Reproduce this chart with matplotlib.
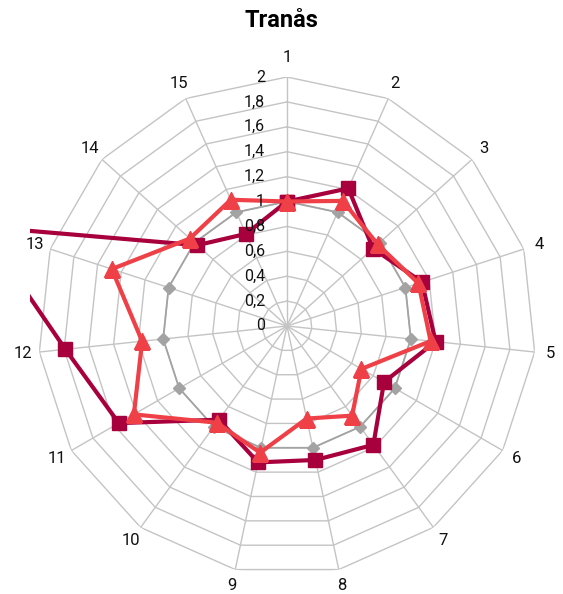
import numpy as np
import matplotlib
matplotlib.use("Agg")
import matplotlib.pyplot as plt
from matplotlib.transforms import Bbox, TransformedBbox, ScaledTranslation

# Data
categories = [str(i) for i in range(1, 16)]
index_ref = [1.0] * 15
series_dark = [1.0, 1.21, 0.93, 1.14, 1.2, 0.9, 1.18, 1.1, 1.12, 0.93, 1.56, 1.79, 2.58, 0.97, 0.81]
series_red = [1.0, 1.1, 0.98, 1.11, 1.16, 0.69, 0.89, 0.76, 1.04, 0.96, 1.42, 1.17, 1.48, 1.05, 1.11]
rticks = [0, 0.2, 0.4, 0.6, 0.8, 1.0, 1.2, 1.4, 1.6, 1.8, 2.0]
rtick_labels = ["0", "0,2", "0,4", "0,6", "0,8", "1", "1,2", "1,4", "1,6", "1,8", "2"]
title = "Tranås"

plt.rcParams['font.family'] = ['Roboto', 'DejaVu Sans']

fig = plt.figure(figsize=(5.63, 5.94), dpi=100)
ax = fig.add_axes([38 / 563, 19 / 594, 498 / 563, 498 / 594], projection='polar')
ax.set_theta_zero_location('N')
ax.set_theta_direction(-1)
ax.set_ylim(0, 2)
ax.grid(False)
ax.set_xticks([])
ax.set_yticks([])
ax.spines['polar'].set_visible(False)
ax.patch.set_visible(False)

n = len(categories)
theta = np.arange(n) * 2 * np.pi / n
theta_closed = np.append(theta, theta[0])


def closed(vals):
    return np.append(vals, vals[0])


# polygon grid rings and spokes
grid_col = '#c4c4c4'
for r in rticks[1:]:
    ax.plot(theta_closed, [r] * (n + 1), color=grid_col, lw=1, zorder=1)
for t in theta:
    ax.plot([t, t], [0, 2], color=grid_col, lw=1, zorder=1)

# series
ax.plot(theta_closed, closed(index_ref), color='#a3a3a3', lw=1.3,
        marker='D', ms=6, zorder=3)
dark, = ax.plot(theta_closed, closed(series_dark), color='#a8003c', lw=3,
                marker='s', ms=10, zorder=4)
ax.plot(theta_closed, closed(series_red), color='#ef4047', lw=3,
        marker='^', ms=11, zorder=5)

# dark series runs past the outer ring; clip it to the plot area instead
dark.set_clip_path(None)
dark.set_clip_box(TransformedBbox(Bbox([[30 / 563, 0.0], [1.0, 0.94]]), fig.transFigure))

# category labels
for t, lab in zip(theta, categories):
    rr = 2.16 if lab == "1" else 2.13
    ax.text(t, rr, lab, ha='center', va='center', fontsize=12, color='#111111')

# radial value labels along the first spoke
off = ax.transData + ScaledTranslation(-22 / 100, 0, fig.dpi_scale_trans)
for r, lab in zip(rticks, rtick_labels):
    ax.text(0, r, lab, transform=off, ha='right', va='center', fontsize=11.5,
            color='#111111', zorder=6)

fig.text(0.5, 0.965, title, ha='center', va='center', fontsize=17, fontweight='bold')

fig.savefig('out.png', dpi=100)
